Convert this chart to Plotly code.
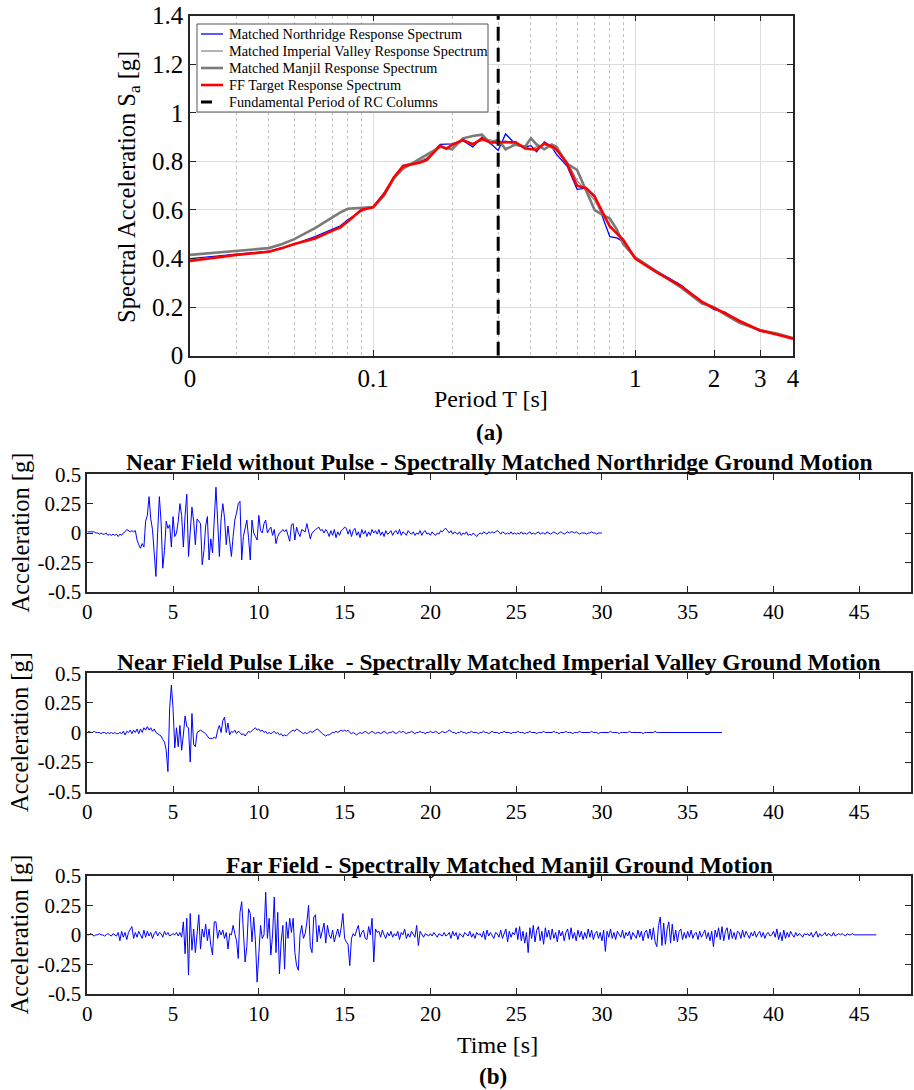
import plotly.graph_objects as go

# ---------------- Data: response spectra (period T in s, Sa in g) ----------------
period_T = [0.02, 0.03, 0.04, 0.045, 0.05, 0.06, 0.07, 0.075, 0.08, 0.09,
            0.1, 0.11, 0.12, 0.13, 0.15, 0.16, 0.18, 0.19, 0.2, 0.22,
            0.24, 0.26, 0.28, 0.3, 0.32, 0.35, 0.38, 0.4, 0.42, 0.45,
            0.48, 0.5, 0.55, 0.6, 0.65, 0.7, 0.75, 0.8, 0.85, 0.9,
            1.0, 1.2, 1.5, 1.8, 2.0, 2.2, 2.5, 3.0, 3.5, 4.0]

sa_northridge = [0.40, 0.418, 0.43, 0.445, 0.46, 0.49, 0.52, 0.535, 0.56, 0.595,
                 0.615, 0.67, 0.73, 0.775, 0.80, 0.81, 0.87, 0.87, 0.872, 0.885,
                 0.86, 0.90, 0.875, 0.845, 0.913, 0.87, 0.86, 0.865, 0.84, 0.88,
                 0.86, 0.83, 0.78, 0.685, 0.69, 0.66, 0.57, 0.49, 0.485, 0.47,
                 0.40, 0.35, 0.29, 0.22, 0.19, 0.18, 0.14, 0.10, 0.09, 0.07]

sa_imperial = [0.395, 0.415, 0.427, 0.442, 0.458, 0.485, 0.515, 0.53, 0.555, 0.598,
               0.612, 0.668, 0.735, 0.785, 0.80, 0.815, 0.862, 0.855, 0.865, 0.885,
               0.875, 0.885, 0.89, 0.87, 0.885, 0.865, 0.86, 0.85, 0.86, 0.87,
               0.855, 0.845, 0.80, 0.72, 0.68, 0.64, 0.58, 0.54, 0.50, 0.47,
               0.405, 0.35, 0.28, 0.215, 0.195, 0.175, 0.14, 0.105, 0.088, 0.071]

sa_manjil = [0.415, 0.43, 0.443, 0.46, 0.48, 0.525, 0.57, 0.59, 0.605, 0.61,
             0.612, 0.66, 0.73, 0.77, 0.81, 0.825, 0.86, 0.855, 0.85, 0.895,
             0.905, 0.91, 0.875, 0.89, 0.85, 0.87, 0.86, 0.895, 0.87, 0.85,
             0.87, 0.86, 0.79, 0.765, 0.68, 0.60, 0.58, 0.565, 0.52, 0.46,
             0.405, 0.35, 0.28, 0.215, 0.20, 0.17, 0.135, 0.105, 0.09, 0.072]

sa_target = [0.39, 0.415, 0.428, 0.443, 0.46, 0.483, 0.515, 0.528, 0.553, 0.60,
             0.611, 0.665, 0.735, 0.78, 0.795, 0.805, 0.865, 0.852, 0.868, 0.888,
             0.87, 0.893, 0.878, 0.878, 0.879, 0.879, 0.853, 0.852, 0.848, 0.874,
             0.862, 0.85, 0.79, 0.70, 0.69, 0.655, 0.59, 0.532, 0.505, 0.477,
             0.40, 0.345, 0.285, 0.222, 0.196, 0.175, 0.143, 0.104, 0.086, 0.07]

fundamental_period = 0.3

spec_names = ["Matched Northridge Response Spectrum",
              "Matched Imperial Valley Response Spectrum",
              "Matched Manjil Response Spectrum",
              "FF Target Response Spectrum",
              "Fundamental Period of RC Columns"]

spec_xtick_vals = [0.02, 0.1, 1, 2, 3, 4]
spec_xtick_text = ["0", "0.1", "1", "2", "3", "4"]
spec_minor_vals = [0.03, 0.04, 0.05, 0.06, 0.07, 0.08, 0.09,
                   0.2, 0.3, 0.4, 0.5, 0.6, 0.7, 0.8, 0.9]

# ---------------- Data: ground motions (g), sampled every 0.1 s ----------------
dt = 0.1

acc_northridge = [
    0.01, 0.01, 0.01, 0.01, 0.01, 0.0, 0.0, -0.01, 0.0, -0.01,
    -0.01, 0.0, -0.02, -0.01, -0.02, -0.01, -0.02, -0.01, -0.03, -0.01,
    -0.02, 0.0, 0.01, 0.03, 0.02, 0.01, 0.02, 0.01, 0.02, -0.06,
    -0.1, -0.13, -0.09, -0.12, 0.1, 0.15, 0.31, 0.12, 0.03, -0.15,
    -0.37, 0.0, 0.31, 0.1, -0.3, -0.15, 0.1, 0.04, 0.07, -0.12,
    0.14, -0.03, 0.0, 0.1, 0.25, 0.15, -0.12, 0.15, 0.33, -0.2,
    0.05, 0.22, 0.1, -0.1, 0.12, 0.1, 0.08, -0.27, -0.15, 0.06,
    0.14, -0.23, -0.05, -0.17, 0.15, 0.39, 0.1, -0.2, 0.12, 0.25,
    0.13, -0.1, 0.06, -0.09, -0.2, -0.03, 0.11, 0.17, 0.25, 0.27,
    -0.23, -0.03, 0.05, 0.11, -0.04, -0.23, 0.11, 0.0, -0.03, -0.06,
    0.15, 0.02, 0.0, 0.08, 0.11, 0.0, 0.03, 0.05, -0.02, 0.03,
    -0.09, -0.03, 0.0, 0.01, 0.03, 0.01, 0.03, -0.02, -0.07, 0.07,
    0.08, -0.06, 0.05, 0.0, -0.03, 0.03, 0.02, 0.01, 0.08, 0.0,
    -0.05, 0.0, 0.02, 0.03, 0.04, 0.05, 0.02, 0.03, 0.0, 0.03,
    0.01, -0.03, 0.02, -0.02, 0.03, -0.04, 0.01, -0.02, 0.02, 0.03,
    0.05, 0.04, -0.01, 0.03, -0.03, 0.02, 0.04, -0.02, 0.01, -0.04,
    0.03, -0.01, 0.02, -0.03, 0.01, -0.02, 0.03, 0.0, 0.02, -0.01,
    0.03, -0.02, 0.01, -0.03, 0.02, -0.01, 0.0, 0.02, -0.02, 0.01,
    0.02, -0.01, 0.03, -0.02, 0.01, 0.0, -0.02, 0.02, 0.0, -0.01,
    0.01, -0.02, 0.0, -0.01, 0.02, -0.02, 0.01, 0.02, -0.01, 0.0,
    -0.02, 0.01, -0.01, -0.02, 0.0, -0.01, 0.02, 0.01, 0.03, 0.04,
    0.02, 0.0, 0.02, -0.01, 0.01, 0.0, -0.01, 0.01, -0.02, 0.0,
    -0.01, 0.01, -0.02, -0.01, -0.02, 0.0, -0.02, -0.03, -0.01, 0.0,
    -0.01, 0.01, 0.0, -0.01, 0.01, 0.0, 0.01, 0.0, 0.01, 0.02,
    0.01, -0.01, 0.01, 0.0, -0.01, 0.0, -0.01, 0.01, -0.01, 0.0,
    -0.01, 0.0, -0.01, 0.01, -0.01, 0.0, -0.01, 0.0, 0.01, -0.01,
    0.0, -0.01, 0.0, 0.01, -0.01, 0.0, 0.0, -0.01, 0.01, 0.0,
    -0.01, 0.0, 0.01, 0.0, -0.01, 0.0, 0.01, 0.0, -0.01, 0.0,
    0.01, 0.0, 0.01, 0.01, 0.0, 0.01, 0.0, -0.01, 0.0, 0.0,
    0.0, -0.01, 0.0, 0.0, 0.01, 0.0, 0.0, -0.01, 0.0, 0.0,
    0.0]

acc_imperial = [
    0.0, 0.01, 0.0, 0.0, 0.01, 0.0, 0.0, 0.0, -0.01, 0.0,
    0.0, -0.01, 0.0, -0.01, 0.0, -0.01, 0.0, -0.01, -0.01, 0.0,
    -0.01, 0.01, -0.02, 0.01, 0.0, 0.02, -0.01, 0.02, 0.0, 0.03,
    -0.01, 0.03, 0.0, 0.04, 0.02, 0.05, 0.02, 0.04, 0.01, 0.03,
    0.0, -0.01, -0.02, -0.03, -0.06, -0.08, -0.15, -0.33, 0.2, 0.4,
    0.2, -0.13, 0.04, -0.12, 0.06, -0.15, -0.02, 0.14, 0.05, 0.04,
    -0.25, 0.16, -0.1, -0.12, 0.0, 0.01, 0.02, 0.01, 0.0, -0.01,
    -0.03, -0.05, -0.05, -0.05, -0.04, -0.05, 0.02, 0.06, 0.0, 0.1,
    0.13, 0.0, 0.08, -0.02, 0.01, 0.0, 0.02, -0.01, 0.01, 0.0,
    -0.02, -0.01, -0.03, -0.01, 0.01, 0.0, 0.02, 0.03, 0.04, 0.02,
    0.03, 0.01, 0.02, 0.0, 0.01, -0.01, 0.0, -0.01, 0.0, 0.01,
    -0.01, 0.0, -0.02, -0.01, -0.03, -0.02, -0.03, -0.01, 0.0, 0.01,
    0.02, 0.01, 0.03, 0.02, 0.01, 0.0, -0.01, 0.0, -0.01, 0.0,
    0.01, 0.0, 0.01, 0.02, 0.03, 0.02, 0.0, -0.01, -0.02, -0.03,
    -0.02, -0.02, -0.01, 0.0, 0.0, 0.01, 0.0, 0.01, 0.02, 0.01,
    0.02, 0.01, 0.02, 0.0, -0.01, 0.0, -0.01, -0.02, -0.01, 0.0,
    -0.01, 0.0, 0.01, 0.0, -0.01, 0.0, 0.01, 0.0, -0.01, 0.0,
    0.0, -0.01, 0.0, 0.01, 0.0, -0.01, 0.0, 0.0, 0.01, 0.0,
    -0.01, 0.0, 0.01, 0.0, 0.01, 0.0, -0.01, 0.0, 0.0, 0.01,
    0.0, -0.01, 0.0, 0.0, 0.01, 0.0, 0.0, -0.01, 0.0, 0.0,
    0.01, 0.0, 0.0, 0.01, 0.0, -0.01, 0.0, 0.01, 0.0, 0.0,
    0.01, 0.02, 0.01, 0.0, 0.0, -0.01, 0.0, 0.0, 0.01, 0.0,
    0.0, -0.01, 0.0, 0.0, 0.01, 0.0, 0.0, 0.0, -0.01, 0.0,
    0.0, 0.01, 0.0, 0.0, -0.01, 0.0, 0.01, 0.0, 0.0, 0.0,
    -0.01, 0.0, 0.0, 0.01, 0.0, 0.0, 0.0, -0.01, 0.0, 0.0,
    0.0, 0.01, 0.0, 0.0, 0.0, -0.01, 0.0, 0.0, 0.01, 0.0,
    0.0, 0.0, -0.01, 0.0, 0.0, 0.0, 0.01, 0.0, 0.0, 0.0,
    0.0, 0.0, 0.01, 0.0, 0.0, -0.01, 0.0, 0.0, 0.0, 0.01,
    0.0, 0.0, 0.0, -0.01, 0.0, 0.0, 0.0, 0.01, 0.0, 0.0,
    0.0, 0.0, 0.0, 0.0, 0.01, 0.0, 0.0, 0.0, -0.01, 0.0,
    0.0, 0.0, 0.0, 0.0, 0.0, 0.01, 0.0, 0.0, 0.0, 0.0,
    -0.01, 0.0, 0.0, 0.0, 0.0, 0.0, 0.01, 0.0, 0.0, 0.0,
    0.0, 0.0, 0.0, 0.0, -0.01, 0.0, 0.0, 0.0, 0.0, 0.0,
    0.0, 0.01, 0.0, 0.0, 0.0, 0.0, 0.0, 0.0, 0.0, 0.0,
    0.0, 0.0, 0.0, 0.0, 0.0, 0.0, 0.0, 0.0, 0.0, 0.0,
    0.0, 0.0, 0.0, 0.0, 0.0, 0.0, 0.0, 0.0, 0.0, 0.0,
    0.0, 0.0, 0.0, 0.0, 0.0, 0.0, 0.0, 0.0, 0.0, 0.0,
    0.0]

acc_manjil = [
    0.0, 0.0, 0.01, 0.0, -0.01, 0.0, 0.0, 0.01, 0.0, 0.0,
    -0.01, 0.0, 0.01, 0.0, -0.01, 0.01, 0.0, -0.01, 0.02, -0.05,
    0.03, -0.02, 0.02, -0.04, 0.02, 0.04, 0.07, -0.03, 0.02, -0.02,
    0.03, 0.0, -0.03, 0.04, -0.02, 0.03, -0.01, 0.02, -0.03, 0.01,
    0.03, -0.01, 0.02, 0.01, -0.02, 0.03, 0.0, 0.02, -0.01, 0.0,
    0.01, 0.0, 0.02, -0.01, 0.02, -0.02, 0.11, -0.16, 0.14, -0.34,
    0.18, -0.13, 0.05, -0.15, 0.02, 0.17, -0.12, 0.05, -0.02, 0.09,
    -0.05, 0.05, -0.09, -0.17, 0.11, 0.11, -0.03, 0.04, 0.0, 0.04,
    -0.03, 0.02, -0.12, 0.01, 0.0, 0.08, 0.01, -0.05, -0.2, 0.19,
    0.28, 0.02, -0.23, -0.1, 0.22, 0.18, -0.06, 0.15, -0.05, -0.4,
    -0.15, 0.08, -0.03, 0.0, 0.36, -0.03, 0.14, -0.17, 0.0, 0.32,
    -0.15, 0.19, -0.33, -0.06, 0.08, -0.29, 0.11, -0.03, 0.14, 0.02,
    0.14, -0.15, -0.26, -0.3, 0.0, 0.08, -0.03, 0.01, 0.11, 0.25,
    -0.1, -0.15, 0.15, 0.17, -0.06, 0.08, -0.03, 0.03, 0.1, -0.07,
    0.08, 0.0, -0.03, 0.04, -0.06, 0.0, 0.05, -0.02, 0.06, 0.18,
    -0.03, -0.06, -0.08, -0.26, -0.03, 0.01, -0.01, 0.04, 0.08, -0.02,
    0.02, 0.04, -0.03, -0.04, 0.07, 0.0, 0.14, -0.23, 0.05, 0.02,
    0.03, -0.02, 0.04, 0.0, -0.03, 0.02, -0.01, 0.03, -0.02, 0.01,
    -0.01, 0.03, -0.04, 0.02, 0.0, 0.05, -0.03, 0.01, -0.02, 0.03,
    0.0, -0.02, 0.08, -0.09, 0.03, 0.0, -0.02, 0.01, 0.0, -0.01,
    0.01, -0.01, 0.02, 0.0, -0.02, 0.01, 0.0, -0.01, 0.02, -0.01,
    0.0, 0.02, -0.03, 0.03, -0.01, 0.02, -0.04, 0.01, 0.0, -0.02,
    0.02, 0.0, -0.01, 0.03, -0.02, 0.01, -0.03, 0.02, 0.0, 0.01,
    -0.02, 0.03, -0.04, 0.04, -0.01, 0.02, 0.0, -0.03, 0.02, 0.01,
    -0.02, 0.04, -0.03, 0.01, 0.05, -0.06, 0.03, -0.02, 0.02, 0.0,
    0.06, -0.04, 0.07, -0.05, 0.03, -0.07, 0.02, -0.15, 0.06, -0.03,
    0.08, -0.06, 0.04, 0.07, -0.05, 0.03, -0.08, 0.06, -0.02, 0.04,
    -0.04, 0.05, -0.03, 0.02, -0.06, 0.04, -0.01, 0.03, -0.05, 0.02,
    0.05, -0.04, 0.06, -0.03, 0.02, -0.05, 0.04, -0.02, 0.03, -0.04,
    0.02, -0.03, 0.05, -0.02, 0.04, -0.04, 0.01, 0.03, -0.03, 0.02,
    -0.05, 0.04, -0.14, 0.03, -0.02, 0.05, -0.03, 0.02, -0.04, 0.03,
    0.0, -0.02, 0.04, -0.03, 0.02, -0.01, 0.03, -0.04, 0.02, 0.0,
    -0.03, 0.04, -0.02, 0.03, -0.05, 0.02, 0.04, -0.03, 0.05, -0.04,
    0.06, -0.06, -0.1, 0.08, 0.15, -0.09, 0.1, -0.08, 0.05, 0.11,
    -0.07, 0.09, -0.05, 0.04, -0.06, 0.03, 0.05, -0.04, 0.02, -0.03,
    0.03, -0.02, 0.04, -0.03, 0.01, 0.02, -0.04, 0.03, -0.02, 0.01,
    0.04, -0.03, 0.02, -0.05, 0.03, -0.1, 0.04, -0.02, 0.06, -0.04,
    0.07, -0.05, 0.03, 0.06, -0.04, 0.05, -0.03, 0.02, -0.04, 0.03,
    0.02, -0.03, 0.04, -0.02, 0.03, 0.0, -0.03, 0.02, -0.01, 0.03,
    -0.02, 0.01, 0.03, -0.02, 0.02, -0.03, 0.01, 0.02, -0.01, 0.0,
    0.03, -0.02, 0.05, -0.04, 0.02, -0.05, 0.04, -0.03, 0.02, -0.02,
    0.03, 0.0, -0.02, 0.02, -0.01, 0.01, 0.0, -0.02, 0.01, 0.0,
    0.01, -0.01, 0.02, -0.02, 0.01, 0.03, -0.02, 0.01, -0.01, 0.0,
    0.02, -0.01, 0.01, 0.0, -0.01, 0.02, -0.01, 0.0, 0.01, 0.0,
    0.01, 0.0, -0.01, 0.01, 0.0, 0.0, 0.01, 0.0, 0.0, 0.0,
    0.0, 0.0, 0.0, 0.0, 0.0, 0.0, 0.0, 0.0, 0.0, 0.0,
    0.0]

gm_titles = [
    "Near Field without Pulse - Spectrally Matched Northridge Ground Motion",
    "Near Field Pulse Like  - Spectrally Matched Imperial Valley Ground Motion",
    "Far Field - Spectrally Matched Manjil Ground Motion",
]
gm_xticks = [0, 5, 10, 15, 20, 25, 30, 35, 40, 45]
gm_yticks = [-0.5, -0.25, 0, 0.25, 0.5]
gm_yticktext = ["-0.5", "-0.25", "0", "0.25", "0.5"]

# ---------------- Layout helpers (window pixel -> paper) ----------------
W, H = 914, 1090


def px_x(p):
    return p / W


def px_y(p):
    return 1 - p / H


FONT = "Liberation Serif"
AXCOL = "#262626"

spec_styles = [dict(color="#0000ff", width=1.3),
               dict(color="#8c8c8c", width=1.3),
               dict(color="#7a7a7a", width=2.6),
               dict(color="#ff0000", width=2.6),
               dict(color="#000000", width=3, dash="14px,7px")]

fig = go.Figure()

# --- spectra ---
for name, sa, st in zip(spec_names[:4],
                        [sa_northridge, sa_imperial, sa_manjil, sa_target],
                        spec_styles[:4]):
    fig.add_trace(go.Scatter(x=period_T, y=sa, mode="lines", name=name,
                             line=st, showlegend=False, xaxis="x", yaxis="y"))
fig.add_trace(go.Scatter(x=[fundamental_period, fundamental_period], y=[0, 1.4],
                         mode="lines", name=spec_names[4], showlegend=False,
                         line=spec_styles[4], xaxis="x", yaxis="y"))

# --- ground motions ---
for i, acc in enumerate([acc_northridge, acc_imperial, acc_manjil]):
    fig.add_trace(go.Scatter(x0=0, dx=dt, y=acc, mode="lines", showlegend=False,
                             line=dict(color="#0000ff", width=1),
                             xaxis=f"x{i + 2}", yaxis=f"y{i + 2}"))

frame = dict(showline=True, linecolor=AXCOL, linewidth=1.5, mirror="allticks",
             ticks="inside", ticklen=6, tickcolor=AXCOL, tickwidth=1.3,
             zeroline=False, automargin=False, ticklabeloverflow="allow",
             tickfont=dict(family=FONT, size=25, color="#000000"))

fig.update_layout(
    xaxis=dict(frame, type="log",
               range=[-1.69897, 0.60206],
               domain=[px_x(190), px_x(793)],
               tickmode="array", tickvals=spec_xtick_vals, ticktext=spec_xtick_text,
               showgrid=True, gridcolor="#dddddd", gridwidth=1,
               minor=dict(tickmode="array", tickvals=spec_minor_vals,
                          showgrid=True, gridcolor="#c0c0c0", griddash="dot",
                          gridwidth=1, ticks=""),
               anchor="y"),
    yaxis=dict(frame, range=[0, 1.4], domain=[px_y(355.7), px_y(15.7)],
               tickmode="array", tickvals=[0, 0.2, 0.4, 0.6, 0.8, 1, 1.2, 1.4],
               ticktext=["0", "0.2", "0.4", "0.6", "0.8", "1", "1.2", "1.4"],
               showgrid=True, gridcolor="#dddddd", gridwidth=1, anchor="x"),
)

panel_px = [(474.3, 591.7), (673.3, 791.7), (875.7, 994.0)]
for i, (top, bot) in enumerate(panel_px):
    k = i + 2
    fig.layout[f"xaxis{k}"] = dict(frame, range=[0, 48],
                                   domain=[px_x(87.3), px_x(910.7)],
                                   tickmode="array", tickvals=gm_xticks,
                                   showgrid=False, anchor=f"y{k}",
                                   tickfont=dict(family=FONT, size=21, color="#000000"))
    fig.layout[f"yaxis{k}"] = dict(frame, range=[-0.5, 0.5],
                                   domain=[px_y(bot), px_y(top)],
                                   tickmode="array", tickvals=gm_yticks,
                                   ticktext=gm_yticktext,
                                   showgrid=False, anchor=f"x{k}",
                                   tickfont=dict(family=FONT, size=21, color="#000000"))

annotations = []
shapes = []


def ann(text, x, y, size, bold=False, angle=0, xanchor="center"):
    t = f"<b>{text}</b>" if bold else text
    annotations.append(dict(text=t, x=px_x(x), y=px_y(y), xref="paper", yref="paper",
                            xanchor=xanchor, yanchor="middle", showarrow=False,
                            textangle=angle,
                            font=dict(family=FONT, size=size, color="#000000")))


ann("Spectral Acceleration S<sub>a</sub> [g]", 128, 187, 24.5, angle=-90)
ann("Period T [s]", 491, 399, 24)
ann("(a)", 489, 432, 23, bold=True)

title_y = [462, 662, 865]
for i in range(3):
    ann(gm_titles[i], 499, title_y[i], 23.5, bold=True)
    top, bot = panel_px[i]
    ann("Acceleration [g]", 19.5, (top + bot) / 2, 24.5, angle=-90)

ann("Time [s]", 497, 1045, 24)
ann("(b)", 493, 1076, 23, bold=True)

# --- legend box for the spectra (drawn on top of the plot) ---
shapes.append(dict(type="rect", xref="paper", yref="paper", layer="above",
                   x0=px_x(197), x1=px_x(488), y0=px_y(112), y1=px_y(24),
                   fillcolor="#ffffff", line=dict(color="#555555", width=1)))
leg_y = [34, 51, 68, 85, 102]
for j in range(5):
    st = dict(spec_styles[j])
    x1 = 223
    if j == 4:
        st = dict(color="#000000", width=3)
        x1 = 212
    shapes.append(dict(type="line", xref="paper", yref="paper", layer="above",
                       x0=px_x(201), x1=px_x(x1), y0=px_y(leg_y[j]), y1=px_y(leg_y[j]),
                       line=st))
    ann(spec_names[j], 227, leg_y[j], 14.3, xanchor="left")

fig.update_layout(
    width=W, height=H,
    margin=dict(l=0, r=0, t=0, b=0),
    paper_bgcolor="#ffffff", plot_bgcolor="#ffffff",
    annotations=annotations,
    shapes=shapes,
    showlegend=False,
)

# remove the default 8 px page margin so the figure fills the window exactly
fig.write_html("out.html",
               config={"displayModeBar": False},
               post_script="document.body.style.margin='0px';"
                           "document.body.style.overflow='hidden';")
